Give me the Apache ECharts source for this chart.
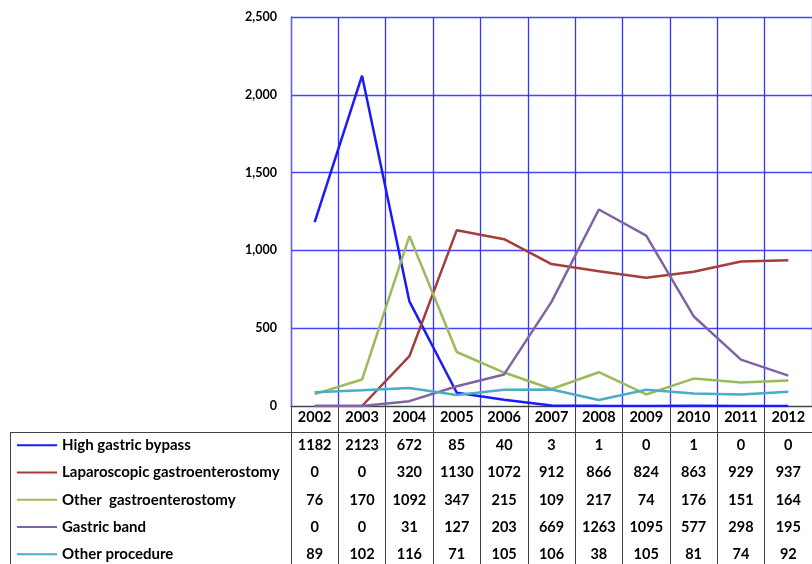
<!DOCTYPE html>
<html>
<head>
<meta charset="utf-8">
<script src="https://cdn.jsdelivr.net/npm/echarts@6/dist/echarts.min.js"></script>
<style>html,body{margin:0;padding:0;background:#fff;}#c{width:812px;height:564px;}</style>
</head>
<body>
<div id="c"></div>
<script>
const years = ['2002','2003','2004','2005','2006','2007','2008','2009','2010','2011','2012'];
const seriesNames = ['High gastric bypass','Laparoscopic gastroenterostomy','Other  gastroenterostomy','Gastric band','Other procedure'];
const highGastricBypass = [1182,2123,672,85,40,3,1,0,1,0,0];
const laparoscopic = [0,0,320,1130,1072,912,866,824,863,929,937];
const otherGastro = [76,170,1092,347,215,109,217,74,176,151,164];
const gastricBand = [0,0,31,127,203,669,1263,1095,577,298,195];
const otherProcedure = [89,102,116,71,105,106,38,105,81,74,92];
const yTicks = [0,500,1000,1500,2000,2500];

const allData = [highGastricBypass, laparoscopic, otherGastro, gastricBand, otherProcedure];
const colors = ['#1a1aff','#a33e3b','#9bbb59','#8064a2','#4bacc6'];
const FONT = 'Lato';
const rowY = [445, 472.5, 500, 527, 554];

const chart = echarts.init(document.getElementById('c'));
chart.setOption({
  animation: false,
  textStyle: {fontFamily: FONT},
  grid: {left: 291, top: 17, width: 529, height: 389, containLabel: false},
  legend: {
    type: 'plain', orient: 'vertical', left: 17, top: 431.5, height: 160, padding: 0, selectedMode: false,
    icon: 'rect', itemWidth: 40, itemHeight: 2, itemGap: 0,
    textStyle: {fontFamily: FONT, fontWeight: 'bold', fontSize: 15, color: '#000', lineHeight: 27.3},
    data: seriesNames
  },
  xAxis: {
    type: 'category', data: years, boundaryGap: true,
    axisLine: {show: true, lineStyle: {color: '#404040', width: 1}},
    axisTick: {show: true, length: 160, lineStyle: {color: '#404040', width: 1}},
    axisLabel: {margin: 4, fontFamily: FONT, fontWeight: 'bold', fontSize: 14.5, color: '#000'},
    splitLine: {show: true, lineStyle: {color: '#3535ff', width: 1.3}}
  },
  yAxis: {
    type: 'value', min: yTicks[0], max: yTicks[yTicks.length-1], interval: 500,
    axisLine: {show: true, lineStyle: {color: '#6060ff', width: 1.3}},
    axisTick: {show: false},
    axisLabel: {margin: 14, fontFamily: FONT, fontWeight: 'bold', fontSize: 12.5, color: '#000',
      formatter: v => v.toLocaleString('en-US')},
    splitLine: {show: true, lineStyle: {color: '#4545ff', width: 1.3}}
  },
  series: seriesNames.map((n, i) => ({
    name: n, type: 'line', data: allData[i], symbol: 'none', smooth: false,
    lineStyle: {color: colors[i], width: 2.5}, itemStyle: {color: colors[i]}
  }))
});

// table frame and values
const graphics = [];
graphics.push({type: 'line', shape: {x1: 10, y1: 432.5, x2: 820, y2: 432.5}, style: {stroke: '#404040', lineWidth: 1}, z: 10});
graphics.push({type: 'line', shape: {x1: 10.5, y1: 432, x2: 10.5, y2: 570}, style: {stroke: '#404040', lineWidth: 1}, z: 10});
allData.forEach((arr, r) => {
  arr.forEach((v, c) => {
    const x = chart.convertToPixel({xAxisIndex: 0}, years[c]);
    graphics.push({type: 'text', x: x, y: rowY[r], z: 10,
      style: {text: String(v), fontFamily: FONT, fontWeight: 'bold', fontSize: 14.5, fill: '#000', align: 'center', verticalAlign: 'middle'}});
  });
});
chart.setOption({graphic: graphics});
</script>
</body>
</html>
